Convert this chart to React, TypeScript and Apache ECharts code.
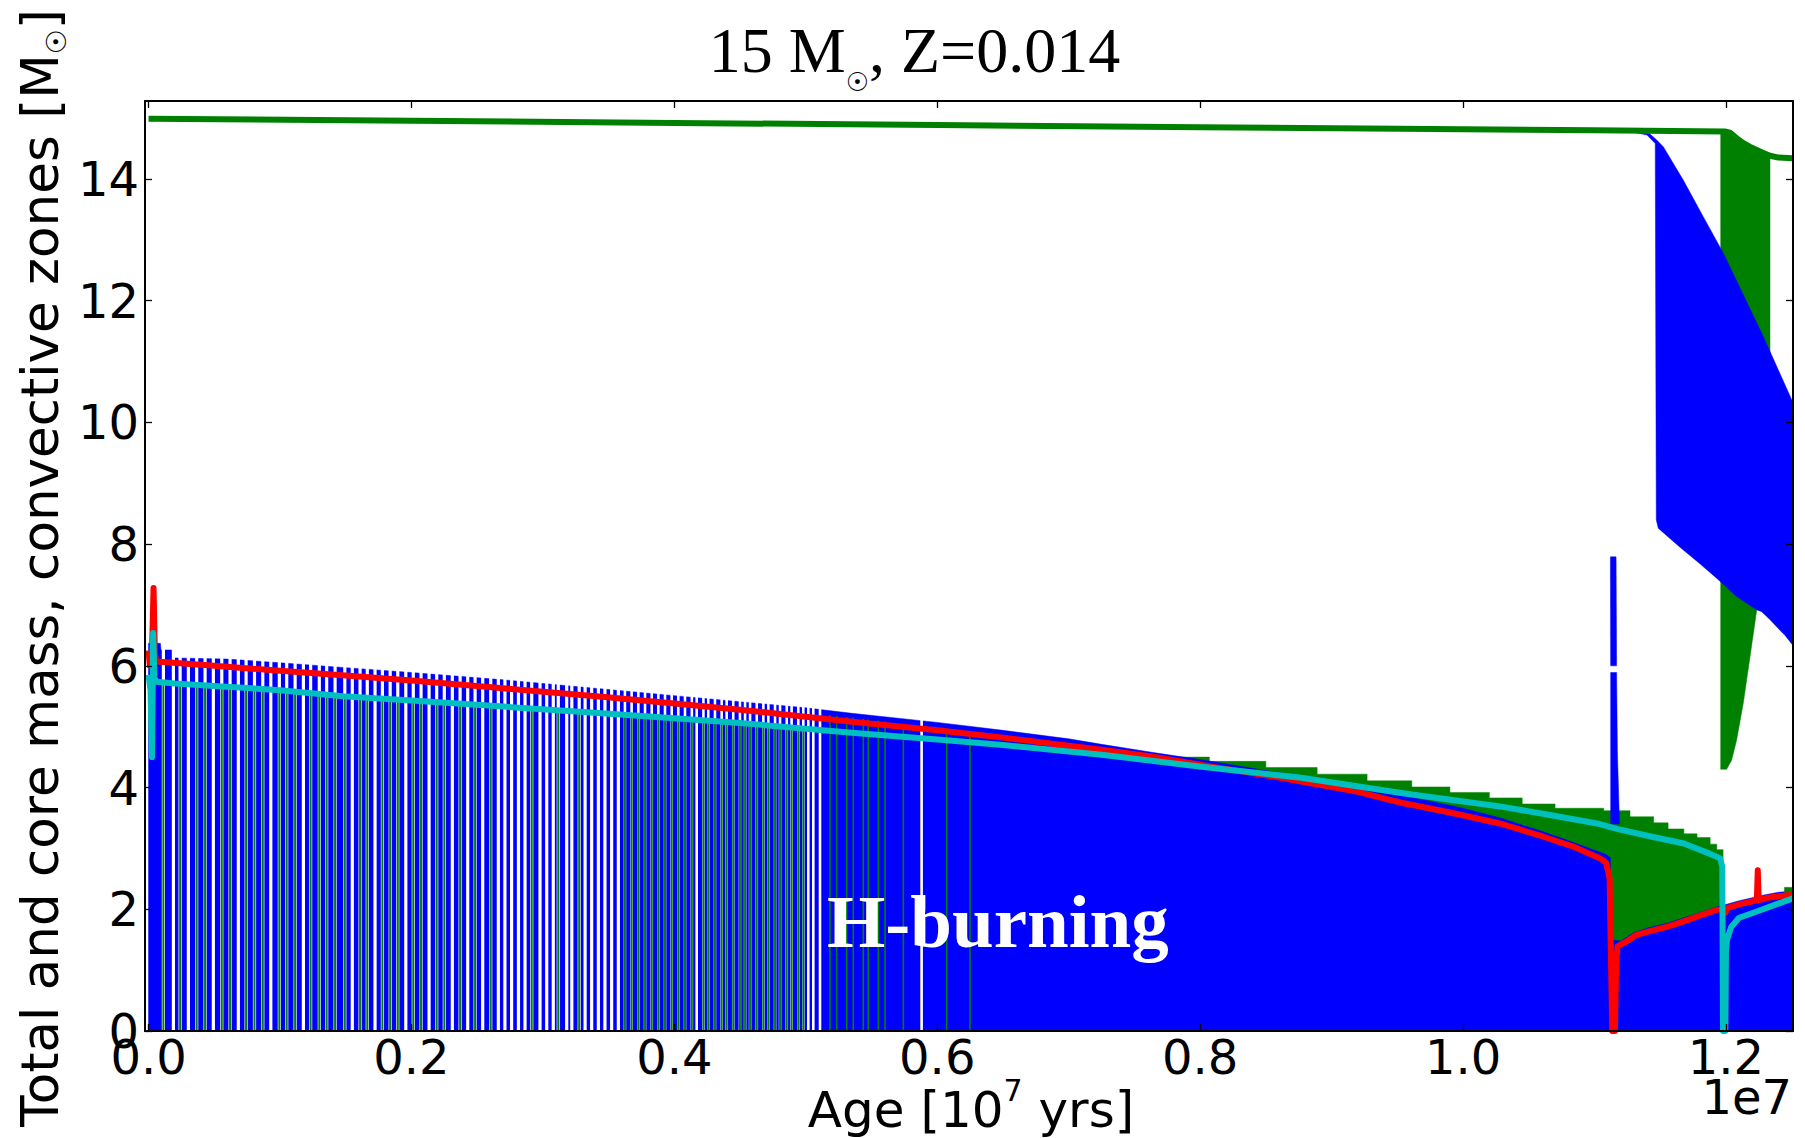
import React, { useEffect, useRef } from "react";
import * as echarts from "echarts";

const X_MIN = -0.0027;
const X_MAX = 1.251;
const Y_MAX = 15.28;

const xTicks = [0, 0.2, 0.4, 0.6, 0.8, 1.0, 1.2];
const yTicks = [0, 2, 4, 6, 8, 10, 12, 14];

const BLUE = "#0000ff";
const GREEN = "#008000";
const RED = "#ff0000";
const CYAN = "#00bfbf";

// total stellar mass [Msun] vs age [1e7 yr]
const totalMass = [
  [0, 14.99], [0.2, 14.955], [0.4, 14.92], [0.6, 14.885], [0.8, 14.85], [1.0, 14.815],
  [1.1, 14.8], [1.199, 14.78], [1.203, 14.76], [1.208, 14.67], [1.213, 14.59], [1.218, 14.53],
  [1.223, 14.48], [1.228, 14.43], [1.2335, 14.38], [1.24, 14.35], [1.251, 14.34],
];

// red core-mass line
const redCore = [
  [0, 6.25], [0.001, 6.0], [0.0025, 6.1], [0.0038, 7.28], [0.0048, 6.2], [0.006, 6.07],
  [0.05, 6.0], [0.1, 5.92], [0.15, 5.84], [0.2, 5.76], [0.27, 5.63], [0.345, 5.49],
  [0.4, 5.38], [0.45, 5.28], [0.535, 5.08], [0.6, 4.94], [0.65, 4.82], [0.725, 4.62],
  [0.763, 4.51], [0.801, 4.37], [0.85, 4.2], [0.877, 4.1], [0.92, 3.93], [0.953, 3.75],
  [0.99, 3.59], [1.028, 3.41], [1.06, 3.2], [1.085, 3.02], [1.104, 2.84], [1.109, 2.76],
  [1.1115, 2.5], [1.1125, 1.2], [1.1135, 0], [1.1155, 0], [1.1165, 1.1], [1.1175, 1.39],
  [1.125, 1.48], [1.132, 1.58], [1.14, 1.63], [1.155, 1.71], [1.165, 1.78], [1.178, 1.88],
  [1.193, 1.99], [1.198, 2.0], [1.1995, 1.94], [1.201, 2.02], [1.21, 2.08], [1.218, 2.12],
  [1.2235, 2.15], [1.2242, 2.64], [1.2249, 2.15], [1.232, 2.19], [1.2385, 2.21], [1.251, 2.24],
];

// cyan core-mass line
const cyanCore = [
  [0, 5.85], [0.0015, 5.6], [0.0026, 4.5], [0.003, 5.4], [0.0035, 6.54], [0.0045, 5.8],
  [0.006, 5.74], [0.02, 5.71], [0.05, 5.67], [0.1, 5.6], [0.148, 5.5], [0.2, 5.43],
  [0.27, 5.33], [0.345, 5.22], [0.4, 5.14], [0.45, 5.06], [0.535, 4.9], [0.6, 4.79],
  [0.65, 4.7], [0.725, 4.54], [0.763, 4.44], [0.801, 4.34], [0.877, 4.16], [0.953, 3.91],
  [1.028, 3.69], [1.066, 3.55], [1.104, 3.4], [1.117, 3.32], [1.142, 3.2], [1.168, 3.08],
  [1.188, 2.91], [1.1955, 2.84], [1.1972, 2.7], [1.1978, 0], [1.1995, 0], [1.2, 1.3],
  [1.2008, 1.5], [1.204, 1.71], [1.21, 1.86], [1.223, 1.96], [1.233, 2.04], [1.251, 2.18],
];

// upper boundary of the convective core (blue)
const blueCoreTop = [
  [0, 6.37], [0.009, 6.37], [0.0095, 6.26], [0.019, 6.26], [0.0195, 6.13], [0.06, 6.11],
  [0.1, 6.05], [0.15, 5.97], [0.2, 5.89], [0.27, 5.77], [0.35, 5.61], [0.4, 5.51],
  [0.45, 5.41], [0.5, 5.31], [0.535, 5.22], [0.6, 5.07], [0.65, 4.94], [0.7, 4.8],
  [0.725, 4.71], [0.763, 4.58], [0.8, 4.46], [0.85, 4.28], [0.9, 4.1], [0.95, 3.89],
  [1.0, 3.66], [1.03, 3.49], [1.06, 3.28], [1.08, 3.13], [1.1, 2.97], [1.108, 2.91],
  [1.112, 2.85], [1.1125, 1.5], [1.12, 1.48], [1.13, 1.62], [1.14, 1.69], [1.155, 1.77],
  [1.165, 1.84], [1.178, 1.93], [1.193, 2.04], [1.2, 2.08], [1.21, 2.14], [1.22, 2.19],
  [1.23, 2.24], [1.24, 2.28], [1.2515, 2.3],
];

// stepped upper boundary of the green zone above the core
const greenStepAge = [0.62, 0.7, 0.75, 0.775, 0.807, 0.85, 0.889, 0.927, 0.961, 0.99, 1.02, 1.045, 1.07, 1.107, 1.127, 1.145, 1.156, 1.168, 1.178, 1.188, 1.193];
const greenStepTop = [4.7, 4.58, 4.53, 4.5, 4.43, 4.33, 4.22, 4.11, 4.01, 3.92, 3.83, 3.73, 3.66, 3.62, 3.52, 3.42, 3.32, 3.24, 3.18, 3.07, 2.98];
const greenStepEnd = 1.1978;

// green zone in the envelope after core H exhaustion
const envelopeGreen = [
  [1.196, 4.3], [1.196, 14.79], [1.203, 14.77], [1.208, 14.67], [1.213, 14.59], [1.218, 14.53],
  [1.223, 14.48], [1.228, 14.43], [1.2335, 14.38], [1.2335, 9.0], [1.2233, 6.9], [1.2183, 6.15],
  [1.2132, 5.39], [1.2081, 4.78], [1.2043, 4.45], [1.2005, 4.3],
];

// convective envelope (blue)
const envelopeBlue = [
  [1.125, 14.8], [1.135, 14.78], [1.142, 14.74], [1.1473, 14.64], [1.1523, 14.53], [1.1675, 13.98],
  [1.1827, 13.38], [1.198, 12.78], [1.2284, 11.41], [1.2515, 10.3], [1.2515, 6.32], [1.245, 6.5],
  [1.2386, 6.64], [1.233, 6.77], [1.2272, 6.89], [1.2233, 6.92], [1.2081, 7.14], [1.1929, 7.44],
  [1.18, 7.68], [1.165, 7.95], [1.1485, 8.26], [1.147, 8.4], [1.1462, 14.58], [1.14, 14.72],
  [1.125, 14.79],
];

// narrow convective episode near the end of H burning
const spikeUpper = [[1.1121, 7.79], [1.1164, 7.79], [1.1168, 6.0], [1.1123, 6.0]];
const spikeLower = [[1.1123, 5.89], [1.1168, 5.89], [1.1174, 4.6], [1.119, 3.4], [1.1123, 3.4]];

const topRightGreen = [[1.2445, 2.27], [1.2445, 2.36], [1.2515, 2.36], [1.2515, 2.27]];

// gaps between the plotted models inside the core (green top = 0: white only)
const gapAge = [
  0.0113, 0.0189, 0.024, 0.0303, 0.0366, 0.043, 0.0493, 0.0557, 0.062, 0.0683, 0.0742, 0.0806,
  0.0869, 0.093, 0.0995, 0.1051, 0.1115, 0.1178, 0.1233, 0.1299, 0.1355, 0.1419, 0.1493, 0.155,
  0.1609, 0.1664, 0.1723, 0.1779, 0.1838, 0.1896, 0.1957, 0.2014, 0.2073, 0.2134, 0.2192, 0.225,
  0.2311, 0.237, 0.2428, 0.2484, 0.2542, 0.2603, 0.2661, 0.2711, 0.2762, 0.2814, 0.2864, 0.2915,
  0.2978, 0.3029, 0.3079, 0.3117, 0.3181, 0.322, 0.3276, 0.3321, 0.3371, 0.3422, 0.3472, 0.3523,
  0.3574, 0.3624, 0.3675, 0.3726, 0.3777, 0.3828, 0.3878, 0.3929, 0.398, 0.403, 0.4081, 0.4133,
  0.417, 0.4221, 0.4258, 0.4309, 0.436, 0.4398, 0.4448, 0.4499, 0.4538, 0.4576, 0.4627, 0.4677,
  0.4715, 0.4766, 0.4804, 0.4855, 0.4892, 0.4943, 0.4981, 0.5019, 0.5057, 0.5108, 0.5881,
];
const gapGreenTop = [
  5.71, 0, 5.7, 0, 5.68, 5.68, 0, 5.66, 5.65, 0, 5.64, 5.63,
  5.62, 0, 5.6, 5.59, 5.58, 0, 5.56, 5.54, 5.53, 5.51, 5.5, 0,
  5.48, 5.47, 0, 5.46, 5.45, 5.44, 0, 5.43, 5.42, 0, 5.4, 5.39,
  0, 5.37, 0, 5.36, 0, 5.34, 0, 0, 0, 0, 0, 5.3,
  0, 0, 0, 5.28, 0, 0, 5.26, 0, 0, 0, 0, 0,
  0, 5.19, 5.19, 5.18, 5.17, 5.16, 5.15, 5.15, 5.14, 5.13, 5.12, 5.12,
  0, 5.1, 5.1, 5.09, 5.08, 5.07, 5.07, 5.06, 5.05, 5.04, 5.03, 5.02,
  5.01, 5.0, 4.99, 4.98, 4.97, 4.96, 4.96, 0, 0, 0, 0,
];

// isolated green model lines in the solid core
const lineAge = [0.5184, 0.5235, 0.5311, 0.5361, 0.5437, 0.5475, 0.5552, 0.5603, 0.5742, 0.6072, 0.6249];
const lineTop = [5.19, 5.18, 5.16, 5.15, 5.13, 5.12, 5.1, 5.09, 5.05, 4.97, 4.93];

function polygonSeries(name: string, points: number[][], color: string, z: number) {
  return {
    name,
    type: "custom",
    coordinateSystem: "cartesian2d",
    clip: true,
    silent: true,
    z,
    data: [points[0]],
    renderItem: (_p: any, api: any) => ({
      type: "polygon",
      shape: { points: points.map((p) => api.coord(p)) },
      style: { fill: color, stroke: color, lineWidth: 0.5 },
    }),
  };
}

function lineSeries(name: string, data: number[][], color: string, z: number, width: number) {
  return {
    name,
    type: "line",
    data,
    symbol: "none",
    showSymbol: false,
    silent: true,
    clip: true,
    z,
    lineStyle: { color, width, join: "round", cap: "butt" },
    emphasis: { disabled: true },
  };
}

function buildGreenSteps(): number[][] {
  const pts: number[][] = [];
  for (let i = 0; i < greenStepAge.length; i++) {
    const next = i + 1 < greenStepAge.length ? greenStepAge[i + 1] : greenStepEnd;
    pts.push([greenStepAge[i], greenStepTop[i]], [next, greenStepTop[i]]);
  }
  pts.push([greenStepEnd, 0], [greenStepAge[0], 0]);
  return pts;
}

const axisCommon = {
  type: "value",
  z: 10,
  splitLine: { show: false },
  axisLine: { show: true, onZero: false, lineStyle: { color: "#000", width: 2 } },
};

export default function App() {
  const ref = useRef<HTMLDivElement>(null);
  useEffect(() => {
    if (!ref.current) return;
    const chart = echarts.init(ref.current, undefined, { renderer: "svg" });
    const labelStyle = { fontFamily: "DejaVu Sans", fontSize: 48, color: "#000" };
    const tickStyle = { show: true, inside: true, length: 7, lineStyle: { color: "#000", width: 1.3 } };
    const option: any = {
      animation: false,
      backgroundColor: "#ffffff",
      grid: { left: 145, right: 12, top: 101, bottom: 107, containLabel: false, outerBoundsMode: "none" },
      xAxis: [
        {
          ...axisCommon,
          min: X_MIN,
          max: X_MAX,
          position: "bottom",
          axisTick: { ...tickStyle, customValues: xTicks },
          axisLabel: { show: true, customValues: xTicks, formatter: (v: number) => v.toFixed(1), margin: 2, ...labelStyle },
        },
        {
          ...axisCommon,
          min: X_MIN,
          max: X_MAX,
          position: "top",
          axisTick: { ...tickStyle, customValues: xTicks },
          axisLabel: { show: false },
        },
      ],
      yAxis: [
        {
          ...axisCommon,
          min: 0,
          max: Y_MAX,
          position: "left",
          axisTick: { ...tickStyle, customValues: yTicks },
          axisLabel: { show: true, customValues: yTicks, formatter: (v: number) => String(v), margin: 6, ...labelStyle },
        },
        {
          ...axisCommon,
          min: 0,
          max: Y_MAX,
          position: "right",
          axisTick: { ...tickStyle, customValues: yTicks },
          axisLabel: { show: false },
        },
      ],
      series: [
        polygonSeries("envelope green", envelopeGreen, GREEN, 1),
        polygonSeries("semiconvective green", buildGreenSteps(), GREEN, 1),
        polygonSeries("convective core", [...blueCoreTop, [1.2515, 0], [0, 0]], BLUE, 2),
        polygonSeries("convective envelope", envelopeBlue, BLUE, 2),
        polygonSeries("spike upper", spikeUpper, BLUE, 2),
        polygonSeries("spike lower", spikeLower, BLUE, 2),
        polygonSeries("top right green", topRightGreen, GREEN, 3),
        {
          name: "model gaps",
          type: "custom",
          coordinateSystem: "cartesian2d",
          clip: true,
          silent: true,
          z: 3,
          data: gapAge.map((a, i) => [a, gapGreenTop[i]]),
          renderItem: (_p: any, api: any) => {
            const age = api.value(0);
            const g = api.value(1);
            const base = api.coord([age, 0]);
            const top = api.coord([age, 6.6]);
            const w = age < 0.36 ? 3.2 : 2.6;
            const children: any[] = [
              { type: "rect", shape: { x: base[0] - w / 2, y: top[1], width: w, height: base[1] - top[1] }, style: { fill: "#ffffff" } },
            ];
            if (g > 0) {
              const gt = api.coord([age, g]);
              children.push({ type: "rect", shape: { x: base[0] - 1, y: gt[1], width: 2, height: base[1] - gt[1] }, style: { fill: GREEN } });
            }
            return { type: "group", children };
          },
        },
        {
          name: "model lines",
          type: "custom",
          coordinateSystem: "cartesian2d",
          clip: true,
          silent: true,
          z: 3,
          data: lineAge.map((a, i) => [a, lineTop[i]]),
          renderItem: (_p: any, api: any) => {
            const base = api.coord([api.value(0), 0]);
            const top = api.coord([api.value(0), api.value(1)]);
            return { type: "rect", shape: { x: base[0] - 0.8, y: top[1], width: 1.6, height: base[1] - top[1] }, style: { fill: GREEN } };
          },
        },
        lineSeries("total mass", totalMass, GREEN, 4, 6),
        lineSeries("red core", redCore, RED, 5, 6),
        lineSeries("cyan core", cyanCore, CYAN, 6, 6),
      ],
      graphic: [
        {
          type: "text",
          x: 914.5,
          y: 50.4,
          z: 100,
          style: {
            text: "{a|15 M}{s|☉}{a|, Z=0.014}",
            align: "center",
            verticalAlign: "middle",
            rich: {
              a: { fontFamily: "Liberation Serif", fontSize: 64, lineHeight: 90, fill: "#000" },
              s: { fontFamily: "DejaVu Sans", fontSize: 26, lineHeight: 26, verticalAlign: "bottom", fill: "#000" },
            },
          },
        },
        {
          type: "text",
          x: 40,
          y: 568,
          rotation: Math.PI / 2,
          z: 100,
          style: {
            text: "{a|Total and core mass, convective zones [M}{s|☉}{a|]}",
            align: "center",
            verticalAlign: "middle",
            rich: {
              a: { fontFamily: "DejaVu Sans", fontSize: 51.5, lineHeight: 61, fill: "#000" },
              s: { fontFamily: "DejaVu Sans", fontSize: 28, lineHeight: 28, verticalAlign: "bottom", fill: "#000" },
            },
          },
        },
        {
          type: "text",
          x: 971,
          y: 1110,
          z: 100,
          style: {
            text: "{a|Age [10}{p|7}{a|\u00a0yrs]}",
            align: "center",
            verticalAlign: "middle",
            rich: {
              a: { fontFamily: "DejaVu Sans", fontSize: 50, lineHeight: 70, fill: "#000" },
              p: { fontFamily: "DejaVu Sans", fontSize: 30, lineHeight: 30, verticalAlign: "top", fill: "#000" },
            },
          },
        },
        {
          type: "text",
          x: 1792,
          y: 1097,
          z: 100,
          style: { text: "1e7", fontFamily: "DejaVu Sans", fontSize: 48, fill: "#000", align: "right", verticalAlign: "middle" },
        },
        {
          type: "text",
          x: 827,
          y: 921,
          z: 100,
          style: {
            text: "H-burning",
            fontFamily: "Liberation Serif",
            fontWeight: "bold",
            fontSize: 75,
            fill: "#ffffff",
            align: "left",
            verticalAlign: "middle",
          },
        },
      ],
    };
    chart.setOption(option);
    return () => chart.dispose();
  }, []);
  return (
    <div
      ref={ref}
      style={{ position: "fixed", left: 0, top: 0, width: 1805, height: 1138, background: "#fff" }}
    />
  );
}
